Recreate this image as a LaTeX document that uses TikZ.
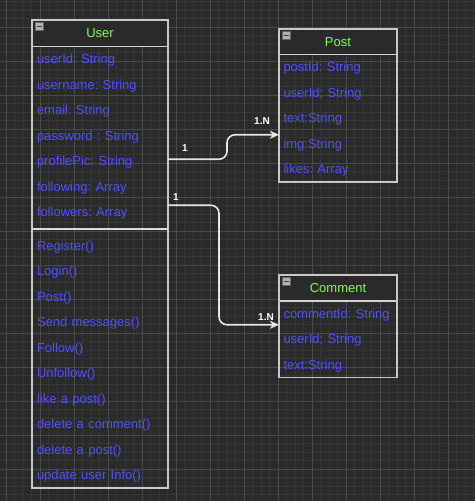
\documentclass[tikz,border=0pt]{standalone}
\usepackage{fontspec}
\setmainfont{Liberation Sans}
\usepackage{xcolor}
\usepackage{tikz}
\usetikzlibrary{arrows.meta, positioning, fit, calc}
\frenchspacing

\definecolor{canvas}{HTML}{2A2A2A}
\definecolor{gridminor}{HTML}{353535}
\definecolor{gridmajor}{HTML}{4A4A4A}
\definecolor{headfill}{HTML}{2A2A2A}
\definecolor{framegray}{HTML}{C8C8C8}
\definecolor{fieldblue}{HTML}{5050FF}
\definecolor{titlegreen}{HTML}{80FF50}
\definecolor{wire}{HTML}{E6E6E6}

\begin{document}
\begin{tikzpicture}[
    x=1pt, y=-1pt,
    font=\fontsize{13}{15}\selectfont,
    head/.style={anchor=north west, inner sep=0pt, outer sep=0pt, fill=headfill, text=titlegreen, text height=9.3pt, text depth=0pt},
    field/.style={minimum height=25.5pt, inner xsep=5pt, inner ysep=0pt, outer sep=0pt, align=left, text=fieldblue, text height=9.3pt, text depth=0pt},
    ufield/.style={field, text width=126pt},
    pfield/.style={field, inner xsep=4.5pt, text width=109pt},
    gap/.style={minimum height=8pt, minimum width=136pt, inner sep=0pt, outer sep=0pt},
    classbox/.style={draw=framegray, line width=1.2pt, inner sep=0pt},
    divider/.style={draw=framegray!80!white, line width=1.5pt},
    minbox/.style={anchor=north west, draw=gray!80!black, fill=gray!60!white, minimum size=8pt, inner sep=0pt,
        path picture={\draw[black!75, line width=1.2pt] ([xshift=1.5pt]path picture bounding box.west) -- ([xshift=-1.5pt]path picture bounding box.east);}},
    link/.style={draw=wire, line width=1.6pt, rounded corners=8pt, -{Stealth[length=9pt, width=8pt, inset=2.5pt]}},
    tag/.style={text=white, font=\fontsize{10}{12}\bfseries\selectfont, inner sep=1pt}
]
\useasboundingbox (0,0) rectangle (475,501);

% Background grid
\fill[canvas] (0,0) rectangle (475,501);
\foreach \k in {0,...,55} \draw[gridminor, line width=0.8pt] (6+\k*8.5,0) -- (6+\k*8.5,501);
\foreach \k in {0,...,58} \draw[gridminor, line width=0.8pt] (0,1.5+\k*8.5) -- (475,1.5+\k*8.5);
\foreach \k in {0,...,13} \draw[gridmajor, line width=0.9pt] (6+\k*34,0) -- (6+\k*34,501);
\foreach \k in {0,...,14} \draw[gridmajor, line width=0.9pt] (0,27+\k*34) -- (475,27+\k*34);

% Left: User class
\node[head, minimum width=136pt, minimum height=26.5pt] (uhead) at (32,20) {User};
\node[ufield, below=0pt of uhead] (uid) {userId: String};
\node[ufield, below=0pt of uid] (uname) {username: String};
\node[ufield, below=0pt of uname] (umail) {email: String};
\node[ufield, below=0pt of umail] (upass) {password : String};
\node[ufield, below=0pt of upass] (upic) {profilePic: String};
\node[ufield, below=0pt of upic] (ufollowing) {following: Array};
\node[ufield, below=0pt of ufollowing] (ufollowers) {followers: Array};
\node[gap, below=0pt of ufollowers] (usep) {};
\node[ufield, below=0pt of usep] (uregister) {Register()};
\node[ufield, below=0pt of uregister] (ulogin) {Login()};
\node[ufield, below=0pt of ulogin] (upost) {Post()};
\node[ufield, below=0pt of upost] (usend) {Send messages()};
\node[ufield, below=0pt of usend] (ufollow) {Follow()};
\node[ufield, below=0pt of ufollow] (uunfollow) {Unfollow()};
\node[ufield, below=0pt of uunfollow] (ulike) {like a post()};
\node[ufield, below=0pt of ulike] (udelcomment) {delete a comment()};
\node[ufield, below=0pt of udelcomment] (udelpost) {delete a post()};
\node[ufield, below=0pt of udelpost] (uupdate) {update user Info()};
\node[minbox] (uicon) at ([xshift=3pt, yshift=-2pt]uhead.north west) {};

% Right top: Post class
\node[head, minimum width=118pt, minimum height=25.5pt] (phead) at (279,29) {Post};
\node[pfield, below=0pt of phead] (pid) {postId: String};
\node[pfield, below=0pt of pid] (puser) {userId; String};
\node[pfield, below=0pt of puser] (ptext) {text:String};
\node[pfield, below=0pt of ptext] (pimg) {img:String};
\node[pfield, below=0pt of pimg] (plikes) {likes: Array};
\node[minbox] (picon) at ([xshift=3pt, yshift=-2pt]phead.north west) {};

% Right bottom: Comment class
\node[head, minimum width=118pt, minimum height=26pt] (chead) at (279,275) {Comment};
\node[pfield, below=0pt of chead] (ccid) {commentId: String};
\node[pfield, below=0pt of ccid] (cuser) {userId; String};
\node[pfield, below=0pt of cuser] (ctext) {text:String};
\node[minbox] (cicon) at ([xshift=3pt, yshift=-2pt]chead.north west) {};

% Frames and dividers
\draw[divider] (uhead.south west) -- (uhead.south east);
\draw[divider, line width=2pt, draw=framegray!60!white] (usep.west) -- (usep.east);
\draw[divider] (phead.south west) -- (phead.south east);
\draw[divider] (chead.south west) -- (chead.south east);
\node[classbox, fit=(uhead) (uupdate)] (user) {};
\node[classbox, fit=(phead) (plikes)] (post) {};
\node[classbox, fit=(chead) (ctext)] (comment) {};

% Connections
\draw[link] ([yshift=2pt]upic.east) node[tag, xshift=17pt, yshift=11pt] {1}
    -- ++(59,0) |- ([yshift=9pt]pimg.west) node[tag, xshift=-17pt, yshift=14pt] {1.N};
\draw[link] ([yshift=7pt]ufollowers.east) node[tag, xshift=8pt, yshift=8pt] {1}
    -- ++(51,0) |- ([yshift=-11pt]ccid.west) node[tag, xshift=-13pt, yshift=8pt] {1.N};

\end{tikzpicture}
\end{document}
